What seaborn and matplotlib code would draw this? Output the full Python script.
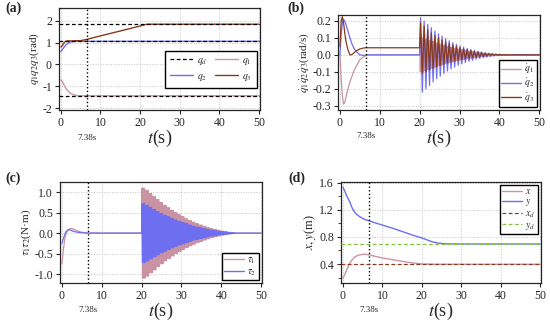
import numpy as np
import matplotlib
matplotlib.use("Agg")
import matplotlib.pyplot as plt
from matplotlib.ticker import FormatStrFormatter, MultipleLocator
import seaborn as sns

# ---- data ----
# (a) joint angles
t_a = [0, 0.3, 0.7, 1.0, 1.3, 2.0, 2.5, 3.0, 4.0, 5.0, 6.6, 10, 15, 20, 21.7, 25, 30, 40, 50]
q1 = [-0.70, -0.76, -0.90, -1.00, -1.10, -1.25, -1.32, -1.37, -1.42, -1.43, -1.43, -1.43, -1.43,
      -1.43, -1.43, -1.43, -1.43, -1.43, -1.43]
q2 = [0.59, 0.66, 0.76, 0.83, 0.90, 0.99, 1.03, 1.05, 1.06, 1.06, 1.06, 1.06, 1.06, 1.06, 1.06,
      1.06, 1.06, 1.06, 1.06]
q3 = [0.80, 0.84, 0.96, 1.03, 1.07, 1.08, 1.08, 1.08, 1.09, 1.09, 1.15, 1.31, 1.53, 1.76, 1.84,
      1.84, 1.84, 1.84, 1.84]
q_des = [1.84, 1.06, -1.43]

# (b) joint velocities, transient part
t_b = [0, 0.3, 0.6, 0.9, 1.2, 1.5, 2.0, 2.5, 3.0, 3.5, 4.0, 5.0, 6.0, 7.0, 8.0, 10, 15, 20]
qd1 = [0, -0.14, -0.24, -0.29, -0.28, -0.25, -0.20, -0.16, -0.126, -0.095, -0.07, -0.028,
       -0.01, 0, 0, 0, 0, 0]
qd2 = [0, 0.12, 0.19, 0.21, 0.20, 0.18, 0.14, 0.10, 0.065, 0.04, 0.022, 0.0, -0.003, 0, 0, 0,
       0, 0]
qd3 = [0.05, 0.20, 0.225, 0.19, 0.13, 0.08, 0.03, 0.0, 0.002, 0.012, 0.022, 0.035, 0.041,
       0.042, 0.042, 0.042, 0.042, 0.042]
# (b) oscillation after t = 20 s, peaks per cycle
osc_t0 = 20.0
osc_period = 0.9
qd1_amp = [0.10, 0.09, 0.085, 0.078, 0.07, 0.063, 0.056, 0.05, 0.044, 0.039, 0.034, 0.03,
           0.026, 0.022, 0.019, 0.016, 0.013, 0.01, 0.008, 0.006, 0.004, 0.003, 0.002, 0.001]
qd2_amp = [0.22, 0.20, 0.18, 0.16, 0.14, 0.125, 0.11, 0.095, 0.083, 0.072, 0.062, 0.053,
           0.045, 0.038, 0.032, 0.026, 0.021, 0.017, 0.013, 0.01, 0.007, 0.005, 0.003, 0.002]
qd3_hi = [0.19, 0.17, 0.15, 0.13, 0.115, 0.10, 0.088, 0.077, 0.067, 0.058, 0.05, 0.043,
          0.037, 0.031, 0.026, 0.021, 0.017, 0.013, 0.01, 0.007, 0.005, 0.003, 0.002, 0.001]
qd3_lo = [-0.11, -0.10, -0.09, -0.08, -0.07, -0.062, -0.055, -0.048, -0.042, -0.036, -0.031,
          -0.027, -0.023, -0.019, -0.016, -0.013, -0.01, -0.008, -0.006, -0.004, -0.003,
          -0.002, -0.001, 0.0]

# (c) torques
t_c = [0, 0.3, 0.7, 1.0, 1.5, 2.0, 2.5, 3.0, 4.0, 5.0, 6.0, 10, 15, 20]
tau1 = [-0.75, -0.45, -0.15, -0.02, 0.07, 0.11, 0.11, 0.09, 0.05, 0.02, 0.01, 0, 0, 0]
tau2 = [-0.25, -0.15, -0.04, 0.03, 0.08, 0.08, 0.06, 0.04, 0.02, 0.01, 0, 0, 0, 0]
tau1_amp = [1.10, 1.05, 0.97, 0.90, 0.82, 0.75, 0.68, 0.62, 0.56, 0.50, 0.45, 0.40, 0.35,
            0.31, 0.27, 0.23, 0.20, 0.17, 0.14, 0.11, 0.09, 0.07, 0.05, 0.035, 0.02, 0.01]
tau2_amp = [0.72, 0.68, 0.63, 0.58, 0.53, 0.48, 0.44, 0.40, 0.36, 0.32, 0.29, 0.26, 0.23,
            0.20, 0.17, 0.15, 0.13, 0.11, 0.09, 0.07, 0.06, 0.045, 0.035, 0.025, 0.015, 0.008]

# (d) end-effector position
t_d = [0, 0.5, 1.0, 1.7, 2.3, 2.9, 3.5, 4.2, 5.4, 6.7, 8, 10, 13, 16, 18, 20, 22.5, 24, 26, 30,
       40, 50]
x_pos = [0.19, 0.25, 0.32, 0.41, 0.46, 0.50, 0.52, 0.535, 0.545, 0.535, 0.515, 0.49, 0.46, 0.43,
         0.415, 0.40, 0.397, 0.396, 0.396, 0.396, 0.396, 0.396]
y_pos = [1.535, 1.47, 1.40, 1.32, 1.23, 1.17, 1.13, 1.10, 1.06, 1.035, 1.01, 0.975, 0.92, 0.86,
         0.82, 0.785, 0.73, 0.71, 0.697, 0.695, 0.695, 0.695]
x_des = 0.40
y_des = 0.70

t_mark = 6.6
t_end = 50

c_pink = "#c993a3"
c_blue = "#6e6ef0"
c_brown = "#8a3a1c"
c_green = "#86c23c"


def add_osc(t0, period, hi, lo, sub):
    # zig-zag through the read peak values, 'sub' swings per cycle
    ts, ys = [], []
    for k in range(len(hi)):
        for j in range(sub):
            base = t0 + k * period + j * period / sub
            ts += [base + 0.25 * period / sub, base + 0.75 * period / sub]
            ys += [hi[k], lo[k]]
    ts += [t0 + len(hi) * period, t_end]
    ys += [0, 0]
    return ts, ys


def join(t_tr, y_tr, osc):
    return list(t_tr) + osc[0], list(y_tr) + osc[1]


sns.set_style("ticks")
plt.rcParams["font.family"] = ["Liberation Serif", "DejaVu Serif"]
plt.rcParams["mathtext.fontset"] = "stix"
plt.rcParams["axes.unicode_minus"] = False

fig = plt.figure(figsize=(5.5, 3.25), dpi=100)
ax_a = fig.add_axes([0.107, 0.6615, 0.3655, 0.3138])
ax_b = fig.add_axes([0.6145, 0.6615, 0.3673, 0.2923])
ax_c = fig.add_axes([0.109, 0.1292, 0.3673, 0.3108])
ax_d = fig.add_axes([0.620, 0.1292, 0.3636, 0.3108])

leg_kw = dict(frameon=True, fancybox=False, edgecolor="k", framealpha=1, fontsize=7,
              handlelength=2.0, borderpad=0.25, labelspacing=0.1, handletextpad=0.4,
              borderaxespad=0.3)
dash = (3, 2)

# ---- (a) ----
ax = ax_a
sns.lineplot(x=t_a, y=q1, ax=ax, color=c_pink, lw=1.0, estimator=None)
sns.lineplot(x=t_a, y=q2, ax=ax, color=c_blue, lw=1.0, estimator=None)
sns.lineplot(x=t_a, y=q3, ax=ax, color=c_brown, lw=1.0, estimator=None)
for v in q_des:
    ax.axhline(v, color="k", ls="--", lw=0.9, dashes=dash, zorder=3)
ax.set_ylim(-2.08, 2.58)
ax.set_yticks([-2, -1, 0, 1, 2])
ax.set_ylabel("$q_1q_2q_3$(rad)", fontsize=8, labelpad=1)
h = [plt.Line2D([], [], color="k", ls="--", lw=0.9, dashes=dash),
     plt.Line2D([], [], color=c_blue, lw=1.0),
     plt.Line2D([], [], color=c_pink, lw=1.0),
     plt.Line2D([], [], color=c_brown, lw=1.0)]
ax.legend(h, ["$q_d$", "$q_2$", "$q_1$", "$q_3$"], ncol=2, loc="center right",
          bbox_to_anchor=(1.0, 0.40), columnspacing=0.8,
          **{**leg_kw, "handlelength": 2.4, "labelspacing": 0.5, "borderpad": 0.5})

# ---- (b) ----
ax = ax_b
tb1, yb1 = join(t_b, qd1, add_osc(osc_t0, osc_period, qd1_amp, [-a for a in qd1_amp], 4))
tb2, yb2 = join(t_b, qd2, add_osc(osc_t0, osc_period, qd2_amp, [-a for a in qd2_amp], 1))
tb3, yb3 = join(t_b, qd3, add_osc(osc_t0, osc_period, qd3_hi, qd3_lo, 1))
sns.lineplot(x=tb1, y=yb1, ax=ax, color=c_pink, lw=0.9, estimator=None, sort=False)
sns.lineplot(x=tb2, y=yb2, ax=ax, color=c_blue, lw=0.9, estimator=None, sort=False)
sns.lineplot(x=tb3, y=yb3, ax=ax, color=c_brown, lw=0.9, estimator=None, sort=False)
ax.set_ylim(-0.325, 0.235)
ax.set_yticks([-0.3, -0.2, -0.1, 0.0, 0.1, 0.2])
ax.yaxis.set_major_formatter(FormatStrFormatter("%.1f"))
ax.set_ylabel(r"$\dot{q}_1\dot{q}_2\dot{q}_3$(rad/s)", fontsize=8, labelpad=1)
h = [plt.Line2D([], [], color=c, lw=1.0) for c in (c_pink, c_blue, c_brown)]
ax.legend(h, [r"$\dot{q}_1$", r"$\dot{q}_2$", r"$\dot{q}_3$"], loc="lower right", **leg_kw)

# ---- (c) ----
ax = ax_c
tc1, yc1 = join(t_c, tau1, add_osc(osc_t0, osc_period, tau1_amp, [-a for a in tau1_amp], 3))
tc2, yc2 = join(t_c, tau2, add_osc(osc_t0, osc_period, tau2_amp, [-a for a in tau2_amp], 3))
sns.lineplot(x=tc1, y=yc1, ax=ax, color=c_pink, lw=0.9, estimator=None, sort=False)
sns.lineplot(x=tc2, y=yc2, ax=ax, color=c_blue, lw=0.9, estimator=None, sort=False)
ax.set_ylim(-1.22, 1.25)
ax.set_yticks([-1.0, -0.5, 0.0, 0.5, 1.0])
ax.yaxis.set_major_formatter(FormatStrFormatter("%.1f"))
ax.set_ylabel(r"$\tau_1\tau_2$(N·m)", fontsize=8, labelpad=1)
h = [plt.Line2D([], [], color=c, lw=1.0) for c in (c_pink, c_blue)]
ax.legend(h, [r"$\tau_1$", r"$\tau_2$"], loc="lower right", **leg_kw)

# ---- (d) ----
ax = ax_d
sns.lineplot(x=t_d, y=x_pos, ax=ax, color=c_pink, lw=1.0, estimator=None)
sns.lineplot(x=t_d, y=y_pos, ax=ax, color=c_blue, lw=1.0, estimator=None)
ax.axhline(x_des, color=c_brown, ls="--", lw=0.9, dashes=dash, zorder=3)
ax.axhline(y_des, color=c_green, ls="--", lw=0.9, dashes=dash, zorder=3)
ax.set_ylim(0.12, 1.61)
ax.set_yticks([0.4, 0.8, 1.2, 1.6])
ax.yaxis.set_minor_locator(MultipleLocator(0.2))
ax.yaxis.set_major_formatter(FormatStrFormatter("%.1f"))
ax.set_ylabel("$x,y$(m)", fontsize=9, labelpad=1)
h = [plt.Line2D([], [], color=c_pink, lw=1.0), plt.Line2D([], [], color=c_blue, lw=1.0),
     plt.Line2D([], [], color=c_brown, ls="--", lw=0.9, dashes=dash),
     plt.Line2D([], [], color=c_green, ls="--", lw=0.9, dashes=dash)]
ax.legend(h, ["$x$", "$y$", "$x_d$", "$y_d$"], loc="upper right", **leg_kw)

# ---- common styling ----
for ax in [ax_a, ax_b, ax_c, ax_d]:
    ax.set_xlim(-0.5, 50.2)
    ax.set_xticks([0, 10, 20, 30, 40, 50])
    ax.grid(True, color="#c4c4c4", ls=":", lw=0.7)
    ax.set_axisbelow(True)
    ax.axvline(t_mark, color="k", ls=":", lw=1.0)
    ax.tick_params(axis="both", which="major", labelsize=8.5, length=3, width=0.8,
                   direction="out", pad=2)
    ax.tick_params(axis="y", which="minor", length=2, width=0.6)
    for s in ax.spines.values():
        s.set_linewidth(0.9)
        s.set_visible(True)
    ax.set_xlabel("$t$(s)", fontsize=13, labelpad=-1)
    ax.text(t_mark, -0.27, "7.38s", transform=ax.get_xaxis_transform(), fontsize=6.5,
            ha="center", va="center")

fig.text(0.009, 0.963, "(a)", fontsize=10, fontweight="bold")
fig.text(0.522, 0.963, "(b)", fontsize=10, fontweight="bold")
fig.text(0.009, 0.44, "(c)", fontsize=10, fontweight="bold")
fig.text(0.524, 0.44, "(d)", fontsize=10, fontweight="bold")

fig.savefig("out.png", dpi=100)
